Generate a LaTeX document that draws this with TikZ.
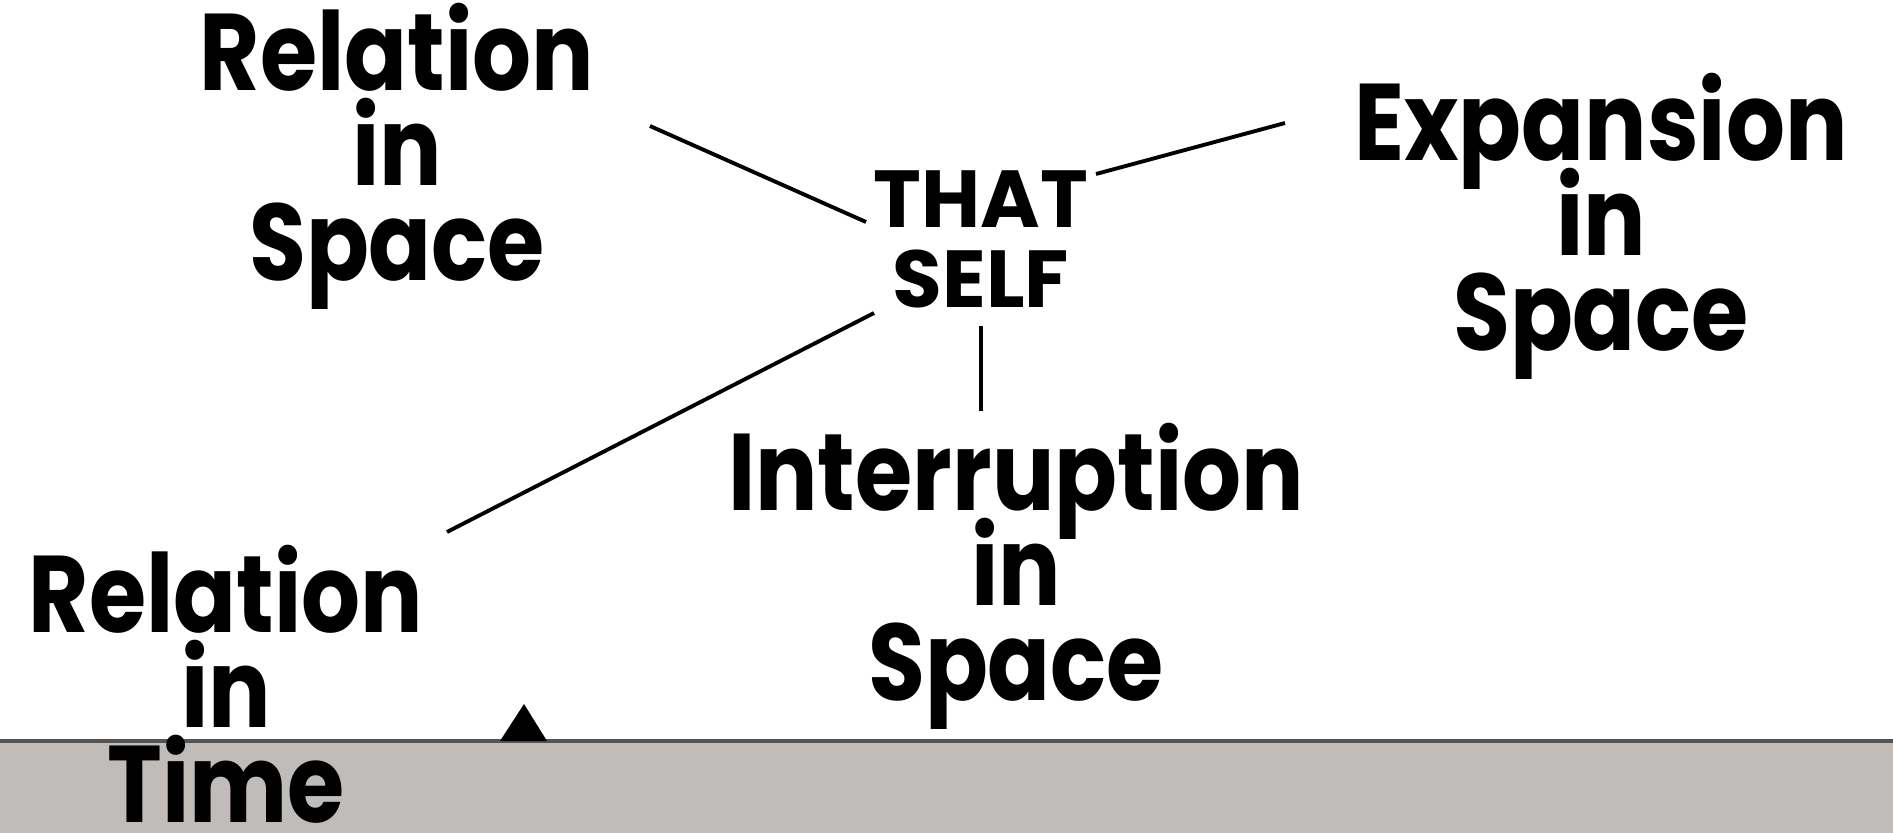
\documentclass[tikz,border=0pt]{standalone}
\usepackage{fontspec}
\setmainfont{Poppins}
\newfontfamily\bigfont{Poppins}[FakeStretch=0.85]
\newcommand\tightlines{\lineskiplimit=-100pt\relax\lineskip=0pt\relax}
\definecolor{barfill}{HTML}{C0BCB9}
\definecolor{barline}{HTML}{555555}
\tikzset{
  big/.style={align=center, inner sep=0pt,
    font=\bigfont\bfseries\fontsize{31}{27}\selectfont\tightlines},
  small/.style={align=center, inner sep=0pt,
    font=\bfseries\fontsize{23}{22.8}\selectfont\tightlines},
  link/.style={line width=1.1pt, black},
}
\begin{document}
\begin{tikzpicture}[x=0.01cm, y=-0.01cm]
\useasboundingbox (0,0) rectangle (1893,833);
% bottom bar
\fill[barfill] (0,741) rectangle (1893,833);
\draw[barline, line width=1.2pt] (0,741) -- (1893,741);
\fill[black] (500,741) -- (524,704) -- (547,741) -- cycle;
% texts
\node[big] (rs) at (397,156) {Relation\\in\\Space};
\node[big] (es) at (1601,226) {Expansion\\in\\Space};
\node[small] (ts) at (981,239) {THAT\\SELF};
\node[big] (is) at (1016,576) {Interruption\\in\\Space};
\node[big] (rt) at (226,684) {Relation\\in\\Time};
% connector ends
\coordinate (a1) at (650,126);
\coordinate (a2) at (866,222);
\coordinate (b1) at (1096,174);
\coordinate (b2) at (1285,123);
\coordinate (c1) at (874,313);
\coordinate (c2) at (447,532);
\coordinate (d1) at (981,326);
\coordinate (d2) at (981,411);
\draw[link] (a1) -- (a2);
\draw[link] (b1) -- (b2);
\draw[link] (c1) -- (c2);
\draw[link] (d1) -- (d2);
\end{tikzpicture}
\end{document}
